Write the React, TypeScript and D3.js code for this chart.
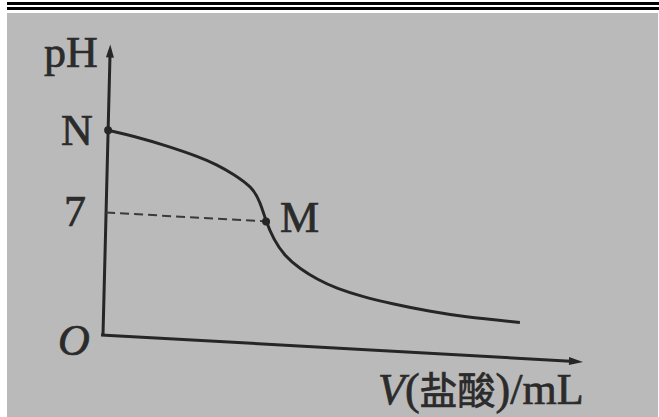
import React from "react";
import * as d3 from "d3";

// Titration curve: pH vs volume of hydrochloric acid added (mL)
const volume = [0, 1.6, 3.7, 5.8, 6.8, 7.9, 9.1, 9.6, 10, 10.5, 11.2, 12.2, 13.3, 14.5, 16.2, 17.9, 20.4, 22.4, 26];
const pHValues = [11.7, 11.45, 11.0, 10.45, 10.1, 9.6, 8.9, 8.1, 7.0, 6.0, 5.1, 4.4, 3.85, 3.4, 3.0, 2.72, 2.38, 2.2, 2.05];

const startPoint = { label: "N", v: 0, pH: 11.7 };
const equivPoint = { label: "M", v: 10, pH: 7 };
const yTickLabel = "7";
const originLabel = "O";
const yTitle = "pH";
const xTitleVar = "V";
const xTitleRest = ["(", "盐酸", ")/mL"];

const xDomain = [0, 30];
const yDomain = [0, 16];

export default function App() {
  const W = 659;
  const H = 417;
  const x = d3.scaleLinear().domain(xDomain).range([0, 480]);
  const y = d3.scaleLinear().domain(yDomain).range([0, -280]);

  const pts = volume.map((v, i) => [v, pHValues[i]] as [number, number]);
  const line = d3
    .line<[number, number]>()
    .x((d) => x(d[0]))
    .y((d) => y(d[1]))
    .curve(d3.curveBasis);

  const ink = "#262626";
  const xEnd = x(30);
  const yTop = y(16.6);
  const serif = "'Liberation Serif', 'Times New Roman', serif";
  const cjk = "'Noto Sans CJK SC', sans-serif";

  return (
    <svg
      width={W}
      height={H}
      style={{ position: "absolute", left: 0, top: 0, background: "#fff" }}
    >
      <rect x={7} y={13} width={W - 8} height={H - 13} fill="#b9bab9" />
      <rect x={7} y={2} width={W - 7} height={3} fill="#000" />
      <rect x={7} y={7} width={W - 7} height={3} fill="#000" />

      <g transform="matrix(1,0.056,-0.025,1,103,335)">
        {/* axes */}
        <line x1={0} y1={0} x2={0} y2={yTop + 6} stroke={ink} strokeWidth={3} />
        <path d={`M0,${yTop} L-4,${yTop + 13} L4,${yTop + 13} Z`} fill={ink} />
        <line x1={-2} y1={0} x2={xEnd - 8} y2={0} stroke={ink} strokeWidth={3} />
        <path d={`M${xEnd},0 L${xEnd - 14},-4 L${xEnd - 14},4 Z`} fill={ink} />

        {/* dashed guide at pH 7 */}
        <line
          x1={0}
          y1={y(equivPoint.pH)}
          x2={x(equivPoint.v)}
          y2={y(equivPoint.pH)}
          stroke="#3a3a3a"
          strokeWidth={2}
          strokeDasharray="9,5"
        />

        <path d={line(pts) || ""} fill="none" stroke={ink} strokeWidth={3} />

        <circle cx={x(startPoint.v)} cy={y(startPoint.pH)} r={4} fill={ink} />
        <circle cx={x(equivPoint.v)} cy={y(equivPoint.pH)} r={4} fill={ink} />
      </g>

      <g fill="#2b2b2b" stroke="#2b2b2b" strokeWidth={0.7} fontFamily={serif} fontSize={44}>
        <text x={44} y={67}>{yTitle}</text>
        <text x={61} y={145}>{startPoint.label}</text>
        <text x={64} y={226}>{yTickLabel}</text>
        <text x={280} y={232}>{equivPoint.label}</text>
        <text x={58} y={355} fontStyle="italic">{originLabel}</text>
        <text x={378} y={404}>
          <tspan fontStyle="italic">{xTitleVar}</tspan>
          <tspan>{xTitleRest[0]}</tspan>
          <tspan fontFamily={cjk} fontSize={38}>{xTitleRest[1]}</tspan>
          <tspan>{xTitleRest[2]}</tspan>
        </text>
      </g>
    </svg>
  );
}
